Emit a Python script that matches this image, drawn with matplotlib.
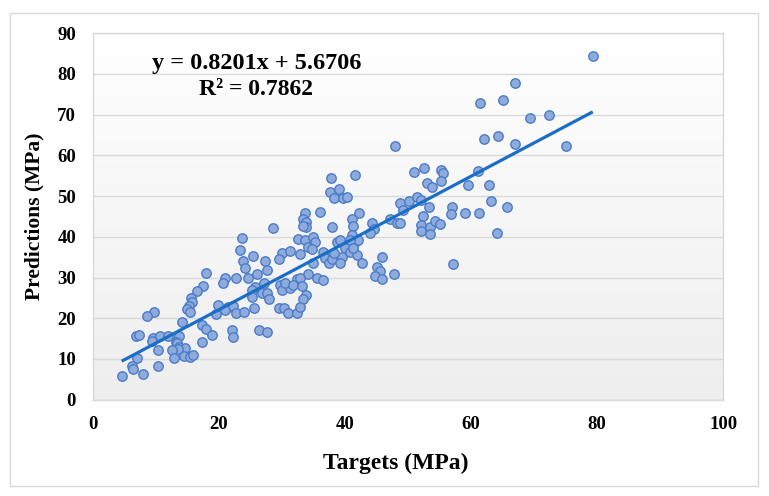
import numpy as np
import matplotlib
matplotlib.use("Agg")
import matplotlib.pyplot as plt
from matplotlib.colors import LinearSegmentedColormap
from matplotlib.patches import Rectangle

# Targets (MPa)
targets = [
    17.9, 17.5, 16.5, 15.6, 15.7, 15.3, 14.9, 15.5, 9.8, 8.6,
    14.2, 17.3, 6.8, 7.4, 9.6, 9.4, 10.7, 12.0, 13.7, 13.2,
    13.4, 13.7, 14.6, 13.6, 10.4, 12.5, 17.3, 7.0, 12.9, 14.4,
    15.5, 15.9, 6.2, 6.4, 10.4, 7.9, 4.6, 33.7, 33.4, 33.8,
    33.9, 33.3, 36.0, 28.6, 23.7, 32.6, 33.7, 35.0, 35.3, 34.2,
    34.7, 23.3, 25.4, 30.0, 31.3, 29.6, 32.9, 23.8, 27.4, 24.2,
    27.7, 35.0, 26.1, 34.2, 21.0, 20.7, 22.8, 24.6, 35.5, 32.4,
    32.9, 25.7, 27.1, 25.2, 29.7, 30.0, 31.3, 30.5, 31.8, 33.2,
    26.8, 27.6, 25.2, 27.9, 33.9, 33.4, 19.9, 21.5, 21.0, 22.3,
    19.5, 22.7, 24.0, 25.6, 29.6, 30.3, 30.9, 32.4, 32.9, 18.0,
    18.9, 22.1, 22.3, 26.4, 27.6, 47.9, 37.8, 41.6, 50.9, 37.6,
    39.0, 38.3, 39.7, 40.3, 48.7, 50.2, 51.4, 49.2, 42.3, 41.1,
    41.2, 44.3, 44.6, 44.0, 37.9, 47.2, 48.2, 48.7, 41.1, 41.6,
    42.1, 40.8, 38.7, 39.2, 40.0, 39.5, 40.8, 36.5, 36.8, 37.4,
    37.9, 38.2, 41.9, 42.7, 41.3, 39.2, 45.8, 45.1, 45.6, 44.8,
    45.8, 47.8, 36.5, 61.4, 65.0, 62.0, 64.2, 66.9, 52.5, 53.0,
    53.8, 55.2, 55.6, 55.2, 61.1, 59.5, 62.9, 63.1, 65.7, 53.4,
    56.9, 56.8, 59.1, 61.3, 52.4, 52.0, 52.0, 53.5, 53.5, 54.3,
    55.1, 64.1, 57.2, 52.0, 79.3, 67.0, 69.4, 72.3, 75.0,
]

# Predictions (MPa), same order
predictions = [
    31.0, 27.9, 26.8, 25.0, 24.1, 23.0, 22.2, 21.6, 21.5, 20.5,
    19.1, 18.3, 15.6, 15.8, 15.1, 14.5, 15.6, 15.6, 15.6, 14.2,
    13.8, 13.0, 12.8, 12.4, 12.2, 12.2, 14.2, 10.2, 10.2, 10.7,
    10.5, 11.0, 8.3, 7.4, 8.3, 6.3, 5.8, 45.8, 44.3, 43.7,
    42.5, 42.7, 46.0, 42.1, 39.6, 39.4, 39.2, 40.0, 38.8, 37.6,
    37.0, 36.8, 35.4, 36.1, 36.5, 34.5, 35.7, 34.1, 34.1, 32.3,
    31.8, 33.5, 30.9, 30.9, 29.8, 28.6, 29.9, 29.8, 29.8, 29.6,
    29.8, 27.7, 28.6, 26.9, 28.2, 26.9, 27.4, 28.6, 28.2, 27.9,
    26.1, 26.3, 25.3, 24.7, 25.7, 24.6, 23.2, 22.8, 22.0, 23.0,
    21.0, 21.2, 21.5, 22.6, 22.6, 22.6, 21.4, 21.4, 22.7, 17.4,
    15.9, 17.1, 15.5, 17.1, 16.5, 62.4, 54.4, 55.2, 55.8, 51.1,
    51.7, 49.5, 49.6, 49.9, 48.2, 48.9, 49.7, 46.7, 45.9, 44.3,
    42.7, 43.5, 41.8, 40.9, 42.3, 44.3, 43.3, 43.3, 40.4, 38.6,
    39.2, 39.2, 38.8, 39.2, 37.2, 35.1, 36.3, 36.3, 34.7, 33.5,
    34.5, 36.0, 35.5, 33.6, 37.2, 33.5, 35.1, 32.7, 31.6, 30.4,
    29.6, 30.9, 29.4, 72.8, 73.6, 64.0, 64.8, 62.8, 57.0, 53.3,
    52.2, 56.4, 55.6, 53.7, 56.2, 52.7, 52.7, 48.9, 47.4, 47.3,
    47.4, 45.5, 45.9, 45.9, 45.1, 42.9, 41.4, 42.5, 40.7, 43.9,
    43.1, 40.9, 33.3, 49.0, 84.5, 77.9, 69.1, 69.9, 62.3,
]

# linear trendline as printed on the chart
slope = 0.8201
intercept = 5.6706
r_squared = 0.7862

x_ticks = [0, 20, 40, 60, 80, 100]
y_ticks = [0, 10, 20, 30, 40, 50, 60, 70, 80, 90]


def main():
    plt.rcParams['font.family'] = ['Liberation Serif', 'DejaVu Serif']
    plt.rcParams['font.weight'] = 'bold'

    fig = plt.figure(figsize=(7.69, 4.96), dpi=100)
    fig.patch.set_facecolor('white')

    # chart area border
    fig.patches.append(Rectangle((10 / 769, 1 - 486 / 496), 748 / 769, 473 / 496,
                                 transform=fig.transFigure, fill=False,
                                 edgecolor='#d9d9d9', linewidth=1.0))

    ax = fig.add_axes([92.7 / 769, 1 - 399.6 / 496, 630.6 / 769, 366.3 / 496])

    # plot area: white on top fading to light gray at the bottom
    grad = np.linspace(0, 1, 256).reshape(-1, 1)
    cmap = LinearSegmentedColormap.from_list('bg', ['#ffffff', '#eeeeee'])
    ax.imshow(grad, extent=[0, 100, 0, 90], aspect='auto', cmap=cmap,
              origin='upper', zorder=0)

    ax.set_xlim(0, 100)
    ax.set_ylim(0, 90)
    ax.set_xticks(x_ticks)
    ax.set_yticks(y_ticks)
    ax.tick_params(length=0, labelsize=13.5, pad=12)
    ax.yaxis.grid(True, color='#d9d9d9', linewidth=1.0, zorder=1)
    ax.set_axisbelow(True)
    for s in ax.spines.values():
        s.set_color('#d9d9d9')
        s.set_linewidth(1.0)

    ax.scatter(targets, predictions, s=46, c='#8fabdc', edgecolors='#4a7cc9',
               linewidths=1.0, zorder=3)

    xs = np.array([min(targets), max(targets)])
    ax.plot(xs, slope * xs + intercept, color='#1b6ec5', linewidth=2.3,
            solid_capstyle='butt', zorder=4)

    ax.text(9.4, 82.7, 'y = %.4fx + %.4f' % (slope, intercept), fontsize=17.5,
            fontweight='bold', va='center', ha='left', zorder=5)
    ax.text(16.9, 76.1, 'R² = %.4f' % r_squared, fontsize=17,
            fontweight='bold', va='center', ha='left', zorder=5)

    ax.set_xlabel('Targets (MPa)', fontsize=17, fontweight='bold')
    ax.xaxis.set_label_coords(0.481, -0.145)
    ax.set_ylabel('Predictions (MPa)', fontsize=15.5, fontweight='bold')
    ax.yaxis.set_label_coords(-0.076, 0.5)

    fig.savefig('out.png', dpi=100)


if __name__ == "__main__":
    main()
